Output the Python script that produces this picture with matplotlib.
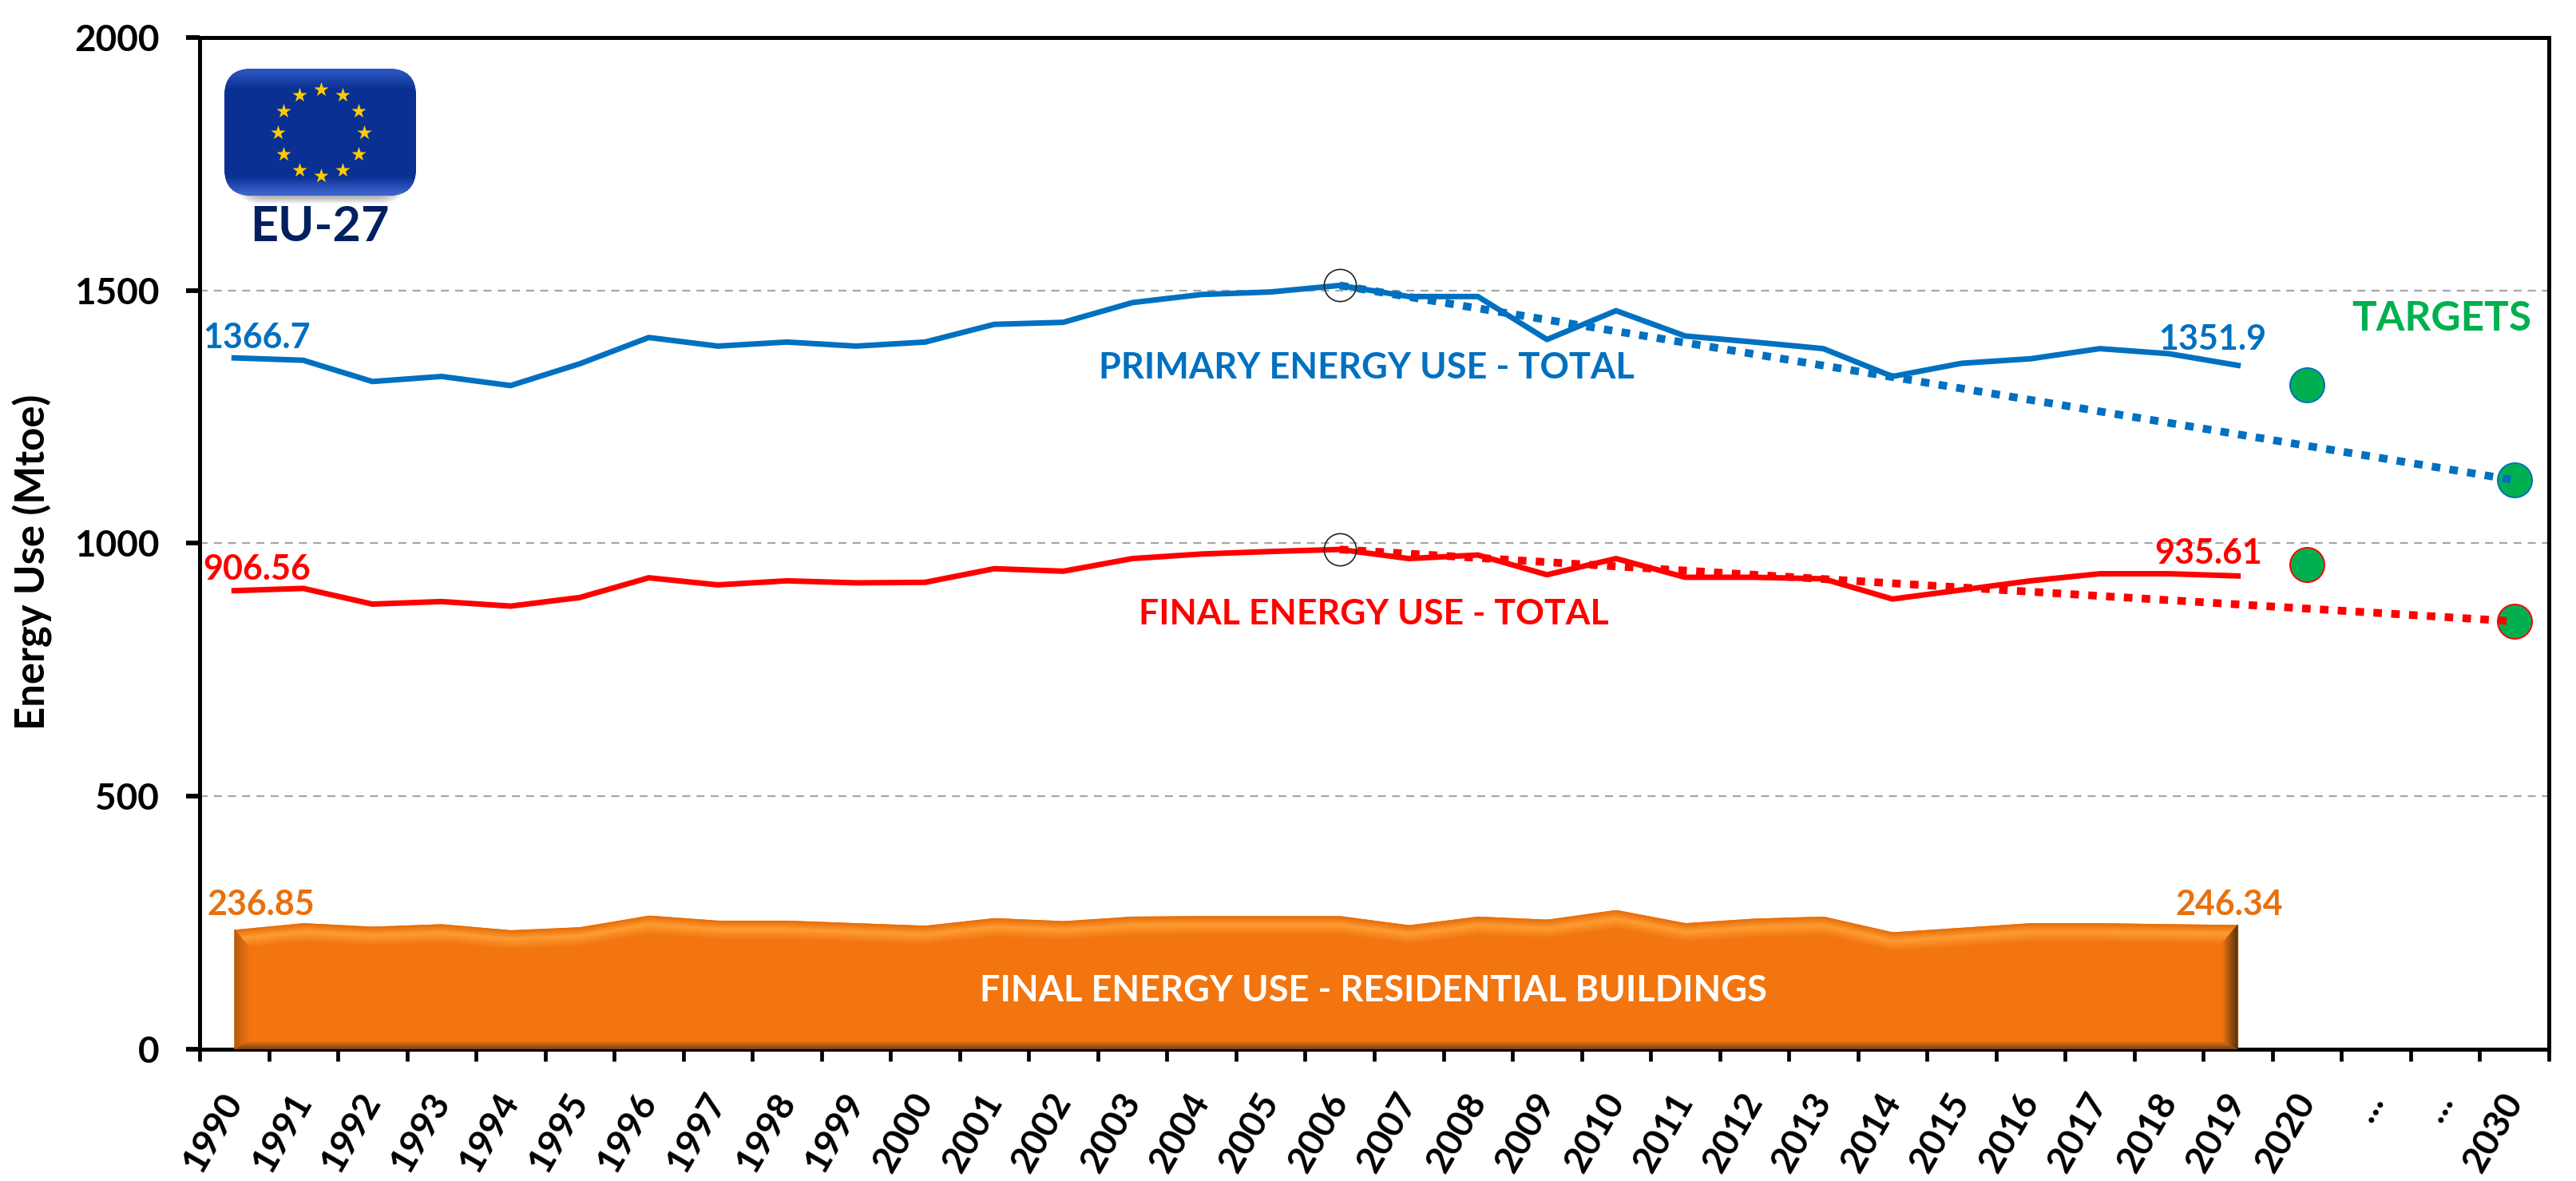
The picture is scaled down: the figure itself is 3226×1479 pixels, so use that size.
import numpy as np
import matplotlib
matplotlib.use('Agg')
import matplotlib.pyplot as plt
from matplotlib.colors import to_rgb
from matplotlib.patches import FancyBboxPatch, Polygon

plt.rcParams['font.family'] = ['Lato', 'DejaVu Sans']
plt.rcParams['font.weight'] = 'bold'
plt.rcParams['axes.labelweight'] = 'bold'

years = [str(y) for y in range(1990, 2021)] + ['...', '...', '2030']

primary = [1366.7, 1362, 1320, 1330, 1312, 1355, 1407, 1390, 1398, 1390,
           1398, 1433, 1437, 1476, 1492, 1497, 1510, 1488, 1488, 1403,
           1460, 1410, 1398, 1385, 1330, 1356, 1365, 1385, 1375, 1351.9]
final = [906.56, 911, 880, 885, 876, 893, 932, 918, 926, 922,
         923, 950, 945, 970, 979, 984, 988, 970, 977, 938,
         970, 933, 933, 930, 890, 908, 926, 940, 940, 935.61]
residential = [236.85, 250, 243, 248, 236, 242, 265, 255, 255, 250,
               245, 260, 254, 263, 264, 264, 264, 246, 263, 257,
               276, 250, 259, 263, 232, 241, 250, 250, 248, 246.34]

trend_pos = [16, 33]
primary_trend = [1510, 1125]
final_trend = [988, 846]
target_pos = [30, 33]
primary_targets = [1313, 1125]
final_targets = [958, 846]
peak_pos = 16
peak_values = [1510, 988]

BLUE = '#0070C0'
RED = '#FF0000'
GREEN = '#00B050'
ORANGE = '#F27510'
ORANGE_TEXT = '#E8700F'

W, H = 3226, 1479
L, R, T, B = 250, 3192, 47, 1314

fig = plt.figure(figsize=(W / 100, H / 100), dpi=100, facecolor='white')
ax = fig.add_axes([L / W, 1 - B / H, (R - L) / W, (B - T) / H])
ax.set_xlim(0, 34)
ax.set_ylim(0, 2000)


def mix(c1, c2, t):
    a, b = np.array(to_rgb(c1)), np.array(to_rgb(c2))
    return tuple(a + (b - a) * t)


# area with bevelled edges
x = np.arange(len(residential)) + 0.5
top = np.array(residential)
x0, x1 = x[0], x[-1]
ax.fill_between(x, 0, top, color=ORANGE, lw=0, zorder=2)

n = 24
bw = 0.23    # side bevel, in categories
th = 38      # top bevel, in Mtoe
bh = 19      # bottom bevel, in Mtoe
for i in range(n):
    t0, t1 = i / n, (i + 1) / n
    tm = (t0 + t1) / 2
    # top band
    if tm < 0.45:
        col = mix('#E56C08', '#FF9C33', tm / 0.45)
    else:
        col = mix('#FF9C33', ORANGE, (tm - 0.45) / 0.55)
    xs = np.linspace(x0 + t0 * bw, x1 - t0 * bw, 400)
    ys = np.interp(xs, x, top)
    ax.fill_between(xs, ys - t0 * th, ys - t1 * th - 1, color=col, lw=0, zorder=3)
    # bottom band
    col = mix('#7A4212', ORANGE, min(tm * 1.15, 1))
    ax.fill_between([x0 + t0 * bw, x1 - t0 * bw], t0 * bh, t1 * bh + 1, color=col, lw=0, zorder=3)
    # sides
    col = mix('#B55A0C', ORANGE, tm)
    ax.add_patch(Polygon([(x0 + t0 * bw, t0 * bh), (x0 + t1 * bw + .01, t1 * bh),
                          (x0 + t1 * bw + .01, top[0] - t1 * th), (x0 + t0 * bw, top[0] - t0 * th)],
                         color=col, lw=0, zorder=4))
    col = mix('#55300C', ORANGE, tm)
    ax.add_patch(Polygon([(x1 - t0 * bw, t0 * bh), (x1 - t1 * bw - .01, t1 * bh),
                          (x1 - t1 * bw - .01, top[-1] - t1 * th), (x1 - t0 * bw, top[-1] - t0 * th)],
                         color=col, lw=0, zorder=4))

# lines
ax.plot(x, primary, color=BLUE, lw=5, zorder=5)
ax.plot(x, final, color=RED, lw=5, zorder=5)

tx = np.array(trend_pos) + 0.5
ax.plot(tx, primary_trend, color=BLUE, lw=7, ls=(0, (1.1, 1.2)), zorder=7)
ax.plot(tx, final_trend, color=RED, lw=7, ls=(0, (1.1, 1.2)), zorder=7)

# targets
gx = np.array(target_pos) + 0.5
ax.plot(gx, primary_targets, 'o', ms=31, mfc=GREEN, mec=BLUE, mew=1.4, zorder=6)
ax.plot(gx, final_targets, 'o', ms=31, mfc=GREEN, mec=RED, mew=1.4, zorder=6)

# 2006 peak circles
ax.plot([peak_pos + 0.5] * 2, peak_values, 'o', ms=29, mfc='none', mec='#222222', mew=1.2, zorder=8)

# axes
for s in ax.spines.values():
    s.set_linewidth(3.6)
    s.set_color('black')
ax.set_axisbelow(True)
ax.yaxis.grid(True, color='#A6A6A6', lw=1.6, ls=(0, (4.5, 3.5)))
ax.set_yticks([0, 500, 1000, 1500, 2000])
ax.tick_params(axis='y', length=12.5, width=4.2, pad=24, labelsize=33)
ax.set_xticks(range(35))
ax.set_xticklabels([])
ax.tick_params(axis='x', which='major', length=11, width=3.4)
ax.set_xticks(np.arange(34) + 0.5, minor=True)
ax.set_xticklabels(years, minor=True, rotation=60, ha='right', va='center',
                   rotation_mode='anchor', fontsize=33, fontweight='bold')
ax.tick_params(axis='x', which='minor', length=0, pad=42)
ax.set_ylabel('Energy Use (Mtoe)', fontsize=36.5, va='center', fontweight='bold')
ax.yaxis.set_label_coords((41 - L) / (R - L), (B - 704) / (B - T))

# overlay in pixels for the labels and the flag
ov = fig.add_axes([0, 0, 1, 1], zorder=10)
ov.patch.set_alpha(0)
ov.axis('off')

labels = [
    ('1366.7', 254, 423, 'left', BLUE, 31),
    ('1351.9', 2703, 425, 'left', BLUE, 31),
    ('906.56', 254, 713, 'left', RED, 31),
    ('935.61', 2698, 693, 'left', RED, 31),
    ('236.85', 259, 1133, 'left', ORANGE_TEXT, 31),
    ('246.34', 2724, 1133, 'left', ORANGE_TEXT, 31),
    ('PRIMARY ENERGY USE - TOTAL', 1711, 461, 'center', BLUE, 32.5),
    ('FINAL ENERGY USE - TOTAL', 1720, 769, 'center', RED, 32),
    ('FINAL ENERGY USE - RESIDENTIAL BUILDINGS', 1720, 1241, 'center', 'white', 32.5),
    ('TARGETS', 3058, 399, 'center', GREEN, 37),
    ('EU-27', 400, 284, 'center', '#002060', 44),
]
for txt, px, py, ha, col, fs in labels:
    ov.text(px, py, txt, color=col, fontsize=fs, fontweight='bold', ha=ha, va='center', zorder=20)

# flag
fx0, fx1, fy0, fy1 = 281, 521, 86, 245
rows = np.zeros((fy1 - fy0, 1, 3))
for r in range(fy1 - fy0):
    if r < 26:
        col = mix('#2F58C4', '#0A3093', r / 26)
    elif r > fy1 - fy0 - 24:
        col = mix('#0A3093', '#3A62CC', (r - (fy1 - fy0 - 24)) / 20 if r < fy1 - fy0 - 4 else 1)
    else:
        col = to_rgb('#0A3093')
    rows[r, 0] = col
for k in range(10, 0, -1):
    ov.add_patch(FancyBboxPatch((fx0 + 24 - k, fy0 + 30), fx1 - fx0 - 48 + 2 * k, fy1 - fy0 - 30 + k,
                                boxstyle='round,pad=0,rounding_size=30',
                                fc='black', ec='none', alpha=0.035, zorder=11))
flag = FancyBboxPatch((fx0, fy0), fx1 - fx0, fy1 - fy0, boxstyle='round,pad=0,rounding_size=34',
                      fc='#0A3093', ec='none', zorder=12)
ov.add_patch(flag)
im = ov.imshow(rows, extent=(fx0, fx1, fy1, fy0), aspect='auto', zorder=13)
im.set_clip_path(flag)
ang = np.arange(12) * np.pi / 6
ov.scatter(402 + 54 * np.cos(ang), 166 + 54 * np.sin(ang), marker='*', s=190, c='#FFCC00',
           linewidths=0, zorder=14)
ov.set_xlim(0, W)
ov.set_ylim(H, 0)

fig.savefig('out.png', dpi=100, facecolor='white')
